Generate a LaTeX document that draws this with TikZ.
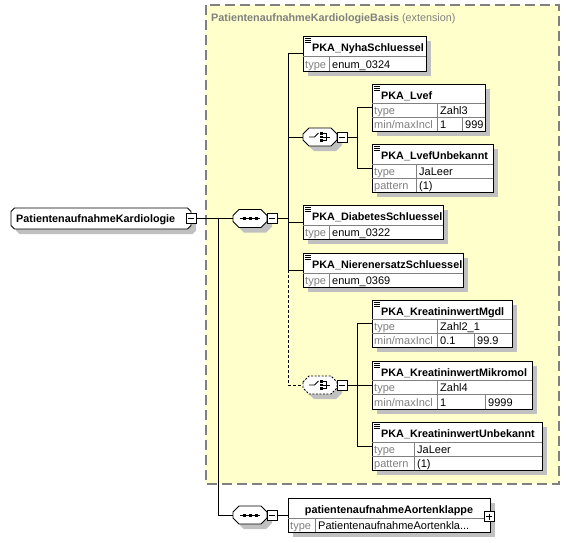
\documentclass[tikz,border=0pt]{standalone}
\usepackage{fontspec}
\setmainfont{Liberation Sans}
\usetikzlibrary{shadows,calc}
\definecolor{extfill}{RGB}{255,255,204}
\definecolor{extline}{RGB}{128,128,128}
\definecolor{shadowgray}{RGB}{192,192,192}
\definecolor{lblgray}{RGB}{128,128,128}
\definecolor{sepgray}{RGB}{128,128,128}
\tikzset{
  dgshadow/.style={drop shadow={shadow xshift=5pt,shadow yshift=-5pt,fill=shadowgray,opacity=1}},
  elem/.style={draw=black,fill=white,line width=0.9pt,anchor=north west,inner sep=0pt,outer sep=0pt,dgshadow},
  ename/.style={anchor=base west,inner sep=0pt,font=\fontsize{10.8}{12}\selectfont\bfseries},
  lbltext/.style={anchor=base west,inner sep=0pt,font=\fontsize{11}{12}\selectfont,text=lblgray},
  valtext/.style={anchor=base west,inner sep=0pt,font=\fontsize{11}{12}\selectfont},
  sepline/.style={draw=sepgray,line width=0.6pt},
  conn/.style={line width=0.9pt},
  optconn/.style={line width=0.9pt,dash pattern=on 3pt off 2pt},
  rootbox/.style={rectangle,inner sep=0pt,outer sep=0pt},
  iconbox/.style={rectangle,inner sep=0pt,outer sep=0pt,minimum width=34,minimum height=18},
  octline/.style={draw=black,fill=white,line width=0.9pt,dgshadow},
  minusbox/.style={draw=black,fill=white,line width=0.8pt,minimum size=10pt,inner sep=0pt,outer sep=0pt,
    path picture={\draw[line width=0.8pt] ([xshift=2pt]path picture bounding box.west) -- ([xshift=-2pt]path picture bounding box.east);}},
  plusbox/.style={draw=black,fill=white,line width=0.8pt,minimum size=10pt,inner sep=0pt,outer sep=0pt,
    path picture={\draw[line width=0.8pt] ([xshift=2pt]path picture bounding box.west) -- ([xshift=-2pt]path picture bounding box.east) ([yshift=-2pt]path picture bounding box.north) -- ([yshift=2pt]path picture bounding box.south);}},
  exttitle/.style={anchor=base west,inner sep=0pt,text=lblgray,font=\fontsize{10.8}{12}\selectfont}
}
\newcommand\dgdoc[2]{\draw[line width=0.6pt] (#1+2,#2+2.5) -- ++(6,0) (#1+2,#2+4.5) -- ++(6,0) (#1+2,#2+6.5) -- ++(6,0);}
% octagon outline around a node: [extra options]{node}{chamfer}
\newcommand\dgoct[3][]{\path[octline,#1]
  ($(#2.north west)+(0,#3)$) -- ($(#2.north west)+(#3,0)$) -- ($(#2.north east)+(-#3,0)$) --
  ($(#2.north east)+(0,#3)$) -- ($(#2.south east)+(0,-#3)$) -- ($(#2.south east)+(-#3,0)$) --
  ($(#2.south west)+(#3,0)$) -- ($(#2.south west)+(0,-#3)$) -- cycle;}
\newcommand\dgseq[1]{\begin{scope}[shift={(#1.center)}]
  \draw[line width=0.9pt] (-10,0) -- (10,0);
  \fill (-7.5,-1.5) rectangle ++(3,3);
  \fill (-1.5,-1.5) rectangle ++(3,3);
  \fill (4.5,-1.5) rectangle ++(3,3);
\end{scope}}
\newcommand\dgchoice[1]{\begin{scope}[shift={(#1.center)}]
  \draw[line width=0.9pt] (-11,0) -- (-5.5,0) -- (-1.5,-4);
  \fill (0,-5) rectangle ++(2.8,2.8);
  \fill (0,-1.4) rectangle ++(2.8,2.8);
  \fill (0,2.2) rectangle ++(2.8,2.8);
  \draw[line width=0.8pt] (2.8,-3.6) -- (6.5,-3.6) -- (6.5,3.6) -- (2.8,3.6) (2.8,0) -- (10,0);
\end{scope}}
\begin{document}
\begin{tikzpicture}[x=1pt,y=-1pt]
\useasboundingbox (0,0) rectangle (570,542);
\fill[white] (0,0) rectangle (570,542);
% extension region
\draw[fill=extfill,draw=extline,line width=1.1pt,dash pattern=on 10pt off 5pt] (206,5) rectangle (559,484);
\node[exttitle] (exttitle) at (211,21) {\textbf{PatientenaufnahmeKardiologieBasis} (extension)};

% root
\node[rootbox,minimum width=180,minimum height=21,anchor=west] (root) at (11,218.5) {};
\dgoct{root}{3.5}
\node[ename] (roottext) at (16,222.5) {PatientenaufnahmeKardiologie};
\node[minusbox] (rootm) at (191,218.5) {};

% sequences and choices
\node[iconbox] (seq1) at (250,218.5) {};
\dgoct{seq1}{6}
\dgseq{seq1}
\node[minusbox] (seq1m) at (272,218.5) {};
\node[iconbox] (seq2) at (250,515) {};
\dgoct{seq2}{6}
\dgseq{seq2}
\node[minusbox] (seq2m) at (272,515) {};
\node[iconbox] (ch1) at (320,137) {};
\dgoct{ch1}{6}
\dgchoice{ch1}
\node[minusbox] (ch1m) at (342,137) {};
\node[iconbox] (ch2) at (320,385) {};
\dgoct[dash pattern=on 2pt off 1.5pt]{ch2}{6}
\dgchoice{ch2}
\node[minusbox] (ch2m) at (342,385) {};

% PKA_NyhaSchluessel
\node[elem,minimum width=123,minimum height=35] (nyha) at (303,36) {};
\dgdoc{303}{36}
\node[ename] (nyhat) at (312,51) {PKA\_NyhaSchluessel};
\draw[sepline] (303,56) -- (426,56) (329,56) -- (329,71);
\node[lbltext] at (305,68) {type};
\node[valtext] at (332,68) {enum\_0324};

% PKA_Lvef
\node[elem,minimum width=113,minimum height=47] (lvef) at (372,84) {};
\dgdoc{372}{84}
\node[ename] (lveft) at (381,99) {PKA\_Lvef};
\draw[sepline] (372,103) -- (485,103) (372,117) -- (485,117) (437,103) -- (437,131) (462,117) -- (462,131);
\node[lbltext] at (374,114) {type};
\node[lbltext] at (374,128) {min/maxIncl};
\node[valtext] at (440,114) {Zahl3};
\node[valtext] at (440,128) {1};
\node[valtext] at (465,128) {999};

% PKA_LvefUnbekannt
\node[elem,minimum width=121,minimum height=48] (lvefu) at (372,144) {};
\dgdoc{372}{144}
\node[ename] (lvefut) at (381,159) {PKA\_LvefUnbekannt};
\draw[sepline] (372,164) -- (493,164) (372,178) -- (493,178) (416,164) -- (416,192);
\node[lbltext] at (374,175) {type};
\node[lbltext] at (374,189) {pattern};
\node[valtext] at (419,175) {JaLeer};
\node[valtext] at (419,189) {(1)};

% PKA_DiabetesSchluessel
\node[elem,minimum width=140,minimum height=34] (diab) at (303,205) {};
\dgdoc{303}{205}
\node[ename] (diabt) at (312,220) {PKA\_DiabetesSchluessel};
\draw[sepline] (303,225) -- (443,225) (329,225) -- (329,239);
\node[lbltext] at (305,236) {type};
\node[valtext] at (332,236) {enum\_0322};

% PKA_NierenersatzSchluessel
\node[elem,minimum width=160,minimum height=34] (niere) at (303,253) {};
\dgdoc{303}{253}
\node[ename] (nieret) at (312,268) {PKA\_NierenersatzSchluessel};
\draw[sepline] (303,273) -- (463,273) (329,273) -- (329,287);
\node[lbltext] at (305,284) {type};
\node[valtext] at (332,284) {enum\_0369};

% PKA_KreatininwertMgdl
\node[elem,minimum width=140,minimum height=47] (mgdl) at (372,300) {};
\dgdoc{372}{300}
\node[ename] (mgdlt) at (381,315) {PKA\_KreatininwertMgdl};
\draw[sepline] (372,319) -- (512,319) (372,333) -- (512,333) (437,319) -- (437,347) (474,333) -- (474,347);
\node[lbltext] at (374,330) {type};
\node[lbltext] at (374,344) {min/maxIncl};
\node[valtext] at (440,330) {Zahl2\_1};
\node[valtext] at (440,344) {0.1};
\node[valtext] at (477,344) {99.9};

% PKA_KreatininwertMikromol
\node[elem,minimum width=160,minimum height=48] (mikro) at (372,361) {};
\dgdoc{372}{361}
\node[ename] (mikrot) at (381,376) {PKA\_KreatininwertMikromol};
\draw[sepline] (372,380) -- (532,380) (372,394.5) -- (532,394.5) (437,380) -- (437,409) (485,394.5) -- (485,409);
\node[lbltext] at (374,391) {type};
\node[lbltext] at (374,406) {min/maxIncl};
\node[valtext] at (440,391) {Zahl4};
\node[valtext] at (440,406) {1};
\node[valtext] at (488,406) {9999};

% PKA_KreatininwertUnbekannt
\node[elem,minimum width=170,minimum height=48] (kreau) at (372,422) {};
\dgdoc{372}{422}
\node[ename] (kreaut) at (381,437) {PKA\_KreatininwertUnbekannt};
\draw[sepline] (372,442) -- (542,442) (372,456) -- (542,456) (414,442) -- (414,470);
\node[lbltext] at (374,453) {type};
\node[lbltext] at (374,467) {pattern};
\node[valtext] at (417,453) {JaLeer};
\node[valtext] at (417,467) {(1)};

% patientenaufnahmeAortenklappe
\node[elem,minimum width=202,minimum height=34] (aorta) at (288,498) {};
\node[anchor=base,inner sep=0pt,font=\fontsize{10.8}{12}\selectfont\bfseries] (aortat) at (389,513) {patientenaufnahmeAortenklappe};
\draw[sepline] (288,518) -- (490,518) (315,518) -- (315,532);
\node[lbltext] at (290,529) {type};
\node[valtext] at (318,529) {PatientenaufnahmeAortenkla...};
\node[plusbox] (aortap) at (489,516.5) {};

% connectors
\coordinate (bus) at (288,0);
\coordinate (bus2) at (357,0);
\coordinate (jr) at (218,0);
\draw[conn] (rootm.east) -- (seq1.west);
\draw[conn] (seq1.west -| jr) |- (seq2.west);
\draw[conn] (seq2m.east) -- (aorta.west);
\draw[conn] (seq1m.east) -- (seq1m.east -| bus);
\draw[conn] (nyha.west) -- (nyha.west -| bus) |- (niere.west);
\draw[conn] (diab.west) -- (diab.west -| bus);
\draw[conn] (ch1.west) -- (ch1.west -| bus);
\draw[optconn] (niere.west -| bus) |- (ch2.west);
\draw[conn] (ch1m.east) -- (ch1m.east -| bus2);
\draw[conn] (lvef.west) -- (lvef.west -| bus2) |- (lvefu.west);
\draw[conn] (mgdl.west) -- (mgdl.west -| bus2) |- (kreau.west);
\draw[conn] (mikro.west) -- (mikro.west -| bus2);
\draw[conn] (ch2m.east) -- (ch2m.east -| bus2);
\end{tikzpicture}
\end{document}
